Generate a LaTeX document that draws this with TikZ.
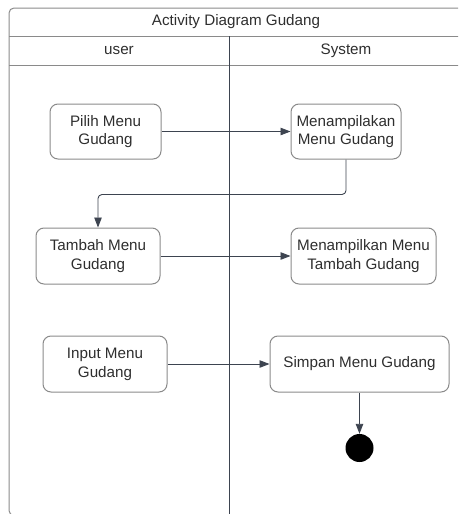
\documentclass[tikz,border=0pt]{standalone}
\usepackage{fontspec}
\setmainfont{Liberation Sans}
\usetikzlibrary{arrows.meta,positioning}

\definecolor{garis}{HTML}{3D4450}
\definecolor{bingkai}{HTML}{8A8A8A}
\definecolor{teks}{HTML}{2E2E2E}

\begin{document}
\begin{tikzpicture}[x=1pt,y=-1pt,
font=\fontsize{15.2}{18.7}\selectfont,
panah/.style={
  draw=garis,
  line width=0.9pt,
  -{Triangle[length=10pt,width=7.5pt]},
  rounded corners=4pt
},
aksi/.style={
  rectangle,
  draw=bingkai,
  line width=1pt,
  rounded corners=8pt,
  minimum height=55pt,
  align=center,
  inner sep=3pt,
  text=teks
},
judul/.style={
  text=teks,
  inner sep=0pt
}]
\useasboundingbox (0,0) rectangle (458,514);
\clip (0,0) rectangle (458,514);

% frame with title and lanes
\draw[bingkai, line width=1pt, rounded corners=5pt] (9,8) rectangle (470,515.5);
\draw[bingkai, line width=1pt] (9,36) -- (470,36);
\draw[bingkai, line width=1pt] (9,65) -- (470,65);
\draw[garis, line width=1pt] (229,36) -- (229,515);

\node[judul] (T) at (236,22) {Activity Diagram Gudang};
\node[judul] (U) at (119,50.5) {user};
\node[judul] (S) at (346,50.5) {System};

% activities
\node[aksi, minimum width=111pt] (PM) at (105.5,131.5) {Pilih Menu\\Gudang};
\node[aksi, minimum width=110pt] (MMG) at (346,131.5) {Menampilakan\\Menu Gudang};

\draw[panah] (PM) -- (MMG);

\node[aksi, minimum width=124pt, minimum height=56pt] (TMG) at (98,256) {Tambah Menu\\Gudang};
\node[aksi, minimum width=145pt, minimum height=56pt] (MMTG) at (363.5,256) {Menampilkan Menu\\Tambah Gudang};

\draw[panah] (MMG.south) -- ++(0,35) -| (TMG.north);
\draw[panah] (TMG) -- (MMTG);

\node[aksi, minimum width=124pt, minimum height=56pt] (IMG) at (105,364) {Input Menu\\Gudang};
\node[aksi, minimum width=179pt, minimum height=56pt] (SMG) at (359.5,364) {Simpan Menu Gudang};

\draw[panah] (IMG) -- (SMG);

\node[circle, fill=black, minimum size=28pt, inner sep=0pt] (END) at (359.5,448) {};

\draw[panah] (SMG) -- (END);

\end{tikzpicture}
\end{document}
